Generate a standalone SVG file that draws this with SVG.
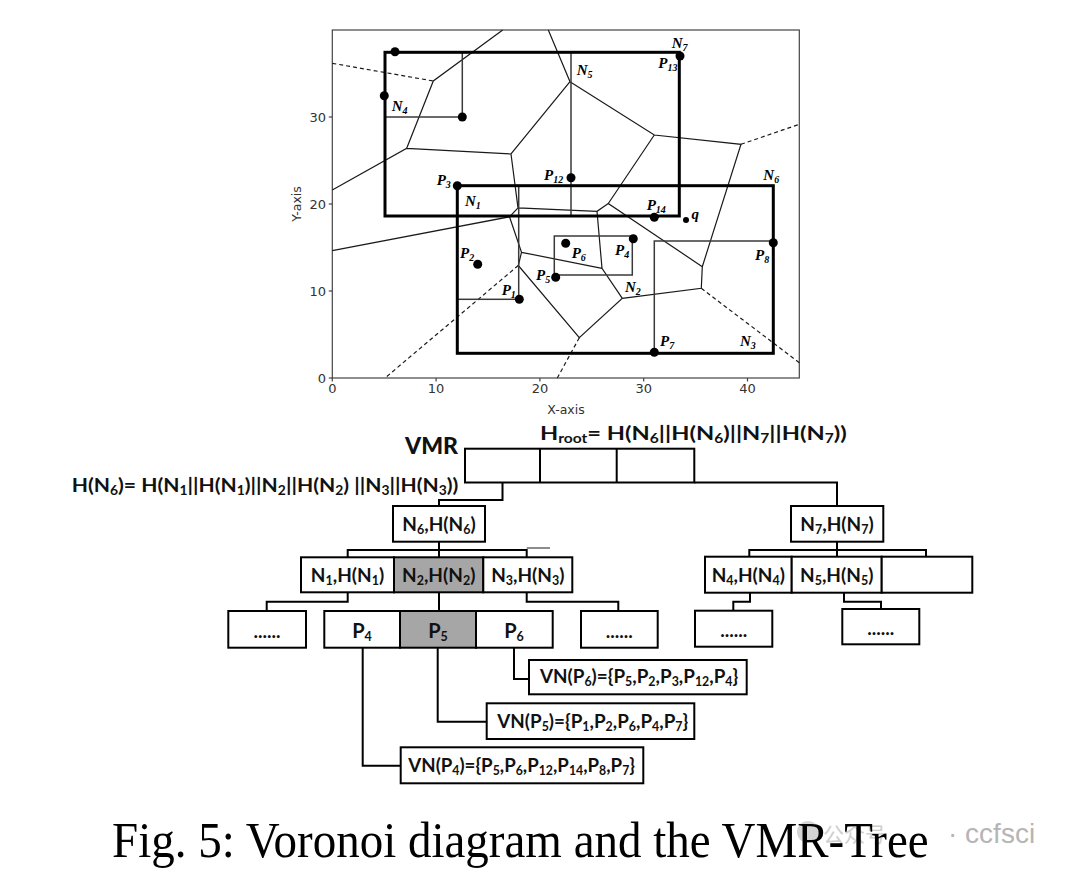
<svg xmlns="http://www.w3.org/2000/svg" width="1080" height="879" viewBox="0 0 1080 879">
<style>
.edge{fill:none;stroke:#1a1a1a;stroke-width:1.2}
.dash{fill:none;stroke:#1a1a1a;stroke-width:1.2;stroke-dasharray:4 3}
.thin{fill:none;stroke:#3a3a3a;stroke-width:1.5}
.thick{fill:none;stroke:#000;stroke-width:3}
.pt{fill:#000}
.lab{font-family:"Liberation Serif",serif;font-weight:bold;font-style:italic;font-size:15px;fill:#000}
.sub{font-size:10px}
.tick{font-family:"DejaVu Sans",sans-serif;font-size:13px;fill:#333}
.box{fill:#fff;stroke:#000;stroke-width:2}
.gray{fill:#a6a6a6;stroke:#000;stroke-width:2}
.t{font-family:Lato,"Liberation Sans",sans-serif;font-weight:bold;font-size:19px;fill:#111}
.s{font-size:12.5px}
.conn{fill:none;stroke:#000;stroke-width:2}
</style>
<rect width="1080" height="879" fill="#fff"/>
<g id="plot">
<rect x="332.3" y="30" width="467" height="348" fill="none" stroke="#444" stroke-width="1.2"/>
<g stroke="#444" stroke-width="1.2">
<line x1="332.3" y1="378" x2="332.3" y2="381.5"/><line x1="436.1" y1="378" x2="436.1" y2="381.5"/><line x1="539.9" y1="378" x2="539.9" y2="381.5"/><line x1="643.7" y1="378" x2="643.7" y2="381.5"/><line x1="747.5" y1="378" x2="747.5" y2="381.5"/>
<line x1="328.8" y1="378" x2="332.3" y2="378"/><line x1="328.8" y1="291" x2="332.3" y2="291"/><line x1="328.8" y1="204" x2="332.3" y2="204"/><line x1="328.8" y1="117" x2="332.3" y2="117"/>
</g>
<g class="tick" text-anchor="middle">
<text x="332.3" y="393">0</text><text x="436.1" y="393">10</text><text x="539.9" y="393">20</text><text x="643.7" y="393">30</text><text x="747.5" y="393">40</text>
<text x="566" y="414" style="font-size:12.5px">X-axis</text>
<text transform="translate(301,204) rotate(-90)" style="font-size:12.5px">Y-axis</text>
</g>
<g class="tick" text-anchor="end">
<text x="326" y="382.7">0</text><text x="326" y="295.7">10</text><text x="326" y="208.7">20</text><text x="326" y="121.7">30</text>
</g>
<path class="edge" d="M502.7,30 L433.3,81 L406.7,148.3 L332.3,190 M406.7,148.3 L511,154 L570,81.7 L548.3,30 M570,81.7 L654.3,135 L741,144.3 L702.3,266.7 L701.3,288.3 L622.3,298.3 L579.3,337.7 L518.3,265.5 L521.5,252.3 L509.5,216.8 L332.3,250.7 M654.3,135 L608.3,203.5 L702.3,266.7 M608.3,203.5 L597,211.3 L518,207.8 L511,154 M518,207.8 L509.5,216.8 M597,211.3 L602,268.3 L622.3,298.3 M602,268.3 L521.5,252.3"/>
<path class="dash" d="M332.3,63.3 L433.3,81 M741,144.3 L799.3,124.3 M701.3,288.3 L799.3,362.7 M518.3,265.5 L385,378 M579.3,337.7 L557.3,378"/>
<rect class="thin" x="385" y="52.3" width="77.3" height="64.7"/>
<rect class="thin" x="571" y="52.3" width="108.3" height="163.7"/>
<rect class="thin" x="457.3" y="185.7" width="61.4" height="113.6"/>
<rect class="thin" x="554.3" y="236" width="78" height="39"/>
<rect class="thin" x="654.3" y="241" width="119" height="112.3"/>
<rect class="thick" x="385" y="52.3" width="294.3" height="163.7"/>
<rect class="thick" x="457.3" y="185.7" width="316" height="167.6"/>
<g class="pt">
<circle cx="395" cy="51.7" r="4.5"/><circle cx="384.3" cy="95.7" r="4.5"/><circle cx="462.3" cy="117" r="4.5"/><circle cx="680" cy="56" r="4.5"/><circle cx="571" cy="177.7" r="4.5"/><circle cx="654.3" cy="217.3" r="4.5"/><circle cx="457.3" cy="185.7" r="4.5"/><circle cx="477.7" cy="264.3" r="4.5"/><circle cx="519.3" cy="299.3" r="4.5"/><circle cx="555.7" cy="277.3" r="4.5"/><circle cx="565.7" cy="243.3" r="4.5"/><circle cx="633.3" cy="238.7" r="4.5"/><circle cx="773.3" cy="242.7" r="4.5"/><circle cx="654.3" cy="352.3" r="4.5"/><circle cx="686" cy="220" r="3"/>
</g>
<g class="lab">
<text x="671.7" y="47.7">N<tspan class="sub" dy="3">7</tspan></text>
<text x="658.3" y="68.3">P<tspan class="sub" dy="3">13</tspan></text>
<text x="576.7" y="75">N<tspan class="sub" dy="3">5</tspan></text>
<text x="544" y="180">P<tspan class="sub" dy="3">12</tspan></text>
<text x="763.3" y="180">N<tspan class="sub" dy="3">6</tspan></text>
<text x="646.7" y="210">P<tspan class="sub" dy="3">14</tspan></text>
<text x="691.5" y="219">q</text>
<text x="391.7" y="110.7">N<tspan class="sub" dy="3">4</tspan></text>
<text x="436.7" y="185">P<tspan class="sub" dy="3">3</tspan></text>
<text x="465" y="206">N<tspan class="sub" dy="3">1</tspan></text>
<text x="460" y="258.3">P<tspan class="sub" dy="3">2</tspan></text>
<text x="501.7" y="295">P<tspan class="sub" dy="3">1</tspan></text>
<text x="536" y="280">P<tspan class="sub" dy="3">5</tspan></text>
<text x="571.7" y="258.3">P<tspan class="sub" dy="3">6</tspan></text>
<text x="615" y="255">P<tspan class="sub" dy="3">4</tspan></text>
<text x="625" y="291.7">N<tspan class="sub" dy="3">2</tspan></text>
<text x="755" y="260">P<tspan class="sub" dy="3">8</tspan></text>
<text x="660" y="345.7">P<tspan class="sub" dy="3">7</tspan></text>
<text x="740" y="345.7">N<tspan class="sub" dy="3">3</tspan></text>
</g>
</g>
<g id="connectors">
<path class="conn" d="M502.5,482.5 V500 H439 V506 M694.3,482.5 H837 V506 M439,541.7 V557.3 M347.7,557.3 V550 H526.7 V557.3 M837,541.7 V556.7 M749.3,556.7 V550 H926 V556.7 M347.7,592.3 V601.7 H266.7 V611 M439,592.3 V611 M526.7,592.3 V601.7 H618.3 V611 M750,592.7 V601.7 H733.3 V610.7 M844,592.7 V601.7 H881 V609 M514,647.7 V679 H529 M437.7,647.7 V721.7 H486.7 M362.7,647.7 V765.7 H400.7"/>
<path d="M526.7,548 H550" fill="none" stroke="#666" stroke-width="1.5"/>
</g>
<g id="vmr-label"><text class="t" x="405" y="454.3" style="font-size:23px;font-weight:900">VMR</text></g>
<g id="hroot-label"><text class="t" x="540" y="440" textLength="306.7" lengthAdjust="spacingAndGlyphs">H<tspan class="s" dy="3">root</tspan><tspan dy="-3">= H(N</tspan><tspan class="s" dy="3">6</tspan><tspan dy="-3">||H(N</tspan><tspan class="s" dy="3">6</tspan><tspan dy="-3">)||N</tspan><tspan class="s" dy="3">7</tspan><tspan dy="-3">||H(N</tspan><tspan class="s" dy="3">7</tspan><tspan dy="-3">))</tspan></text></g>
<g id="hn6-label"><text class="t" x="71.7" y="492" textLength="386.7" lengthAdjust="spacingAndGlyphs">H(N<tspan class="s" dy="3">6</tspan><tspan dy="-3">)= H(N</tspan><tspan class="s" dy="3">1</tspan><tspan dy="-3">||H(N</tspan><tspan class="s" dy="3">1</tspan><tspan dy="-3">)||N</tspan><tspan class="s" dy="3">2</tspan><tspan dy="-3">||H(N</tspan><tspan class="s" dy="3">2</tspan><tspan dy="-3">) ||N</tspan><tspan class="s" dy="3">3</tspan><tspan dy="-3">||H(N</tspan><tspan class="s" dy="3">3</tspan><tspan dy="-3">))</tspan></text></g>
<g id="root">
<rect class="box" x="465" y="448.7" width="229.3" height="33.8"/>
<line x1="540" y1="448.7" x2="540" y2="482.5" stroke="#000" stroke-width="2"/>
<line x1="616.7" y1="448.7" x2="616.7" y2="482.5" stroke="#000" stroke-width="2"/>
</g>
<g id="n6">
<rect class="box" x="393" y="506" width="92" height="35.7"/>
<text class="t" x="439" y="531" text-anchor="middle">N<tspan class="s" dy="3">6</tspan><tspan dy="-3">,H(N</tspan><tspan class="s" dy="3">6</tspan><tspan dy="-3">)</tspan></text>
</g>
<g id="n7">
<rect class="box" x="791" y="506" width="92.3" height="35.7"/>
<text class="t" x="837" y="531" text-anchor="middle">N<tspan class="s" dy="3">7</tspan><tspan dy="-3">,H(N</tspan><tspan class="s" dy="3">7</tspan><tspan dy="-3">)</tspan></text>
</g>
<g id="n1">
<rect class="box" x="301" y="557.3" width="93" height="35"/>
<text class="t" x="347.5" y="582" text-anchor="middle">N<tspan class="s" dy="3">1</tspan><tspan dy="-3">,H(N</tspan><tspan class="s" dy="3">1</tspan><tspan dy="-3">)</tspan></text>
</g>
<g id="n2">
<rect class="gray" x="394" y="557.3" width="89.3" height="35"/>
<text class="t" x="438.7" y="582" text-anchor="middle">N<tspan class="s" dy="3">2</tspan><tspan dy="-3">,H(N</tspan><tspan class="s" dy="3">2</tspan><tspan dy="-3">)</tspan></text>
</g>
<g id="n3">
<rect class="box" x="483.3" y="557.3" width="89" height="35"/>
<text class="t" x="527.8" y="582" text-anchor="middle">N<tspan class="s" dy="3">3</tspan><tspan dy="-3">,H(N</tspan><tspan class="s" dy="3">3</tspan><tspan dy="-3">)</tspan></text>
</g>
<g id="n4">
<rect class="box" x="705" y="556.7" width="86.7" height="36"/>
<text class="t" x="748.3" y="581.5" text-anchor="middle">N<tspan class="s" dy="3">4</tspan><tspan dy="-3">,H(N</tspan><tspan class="s" dy="3">4</tspan><tspan dy="-3">)</tspan></text>
</g>
<g id="n5">
<rect class="box" x="791.7" y="556.7" width="90" height="36"/>
<text class="t" x="836.7" y="581.5" text-anchor="middle">N<tspan class="s" dy="3">5</tspan><tspan dy="-3">,H(N</tspan><tspan class="s" dy="3">5</tspan><tspan dy="-3">)</tspan></text>
</g>
<g id="n7-empty"><rect class="box" x="881.7" y="556.7" width="90.6" height="36"/></g>
<g id="dots1"><rect class="box" x="228.3" y="611" width="77.7" height="36.7"/><text class="t" x="267" y="637.5" text-anchor="middle">......</text></g>
<g id="p4"><rect class="box" x="324.3" y="611" width="75.7" height="36.7"/><text class="t" x="362" y="638" text-anchor="middle" style="font-size:20px">P<tspan class="s" dy="3">4</tspan></text></g>
<g id="p5"><rect class="gray" x="400" y="611" width="76" height="36.7"/><text class="t" x="438" y="638" text-anchor="middle" style="font-size:20px">P<tspan class="s" dy="3">5</tspan></text></g>
<g id="p6"><rect class="box" x="476" y="611" width="76.7" height="36.7"/><text class="t" x="514" y="638" text-anchor="middle" style="font-size:20px">P<tspan class="s" dy="3">6</tspan></text></g>
<g id="dots2"><rect class="box" x="581" y="611" width="76.7" height="36.7"/><text class="t" x="619.3" y="637.5" text-anchor="middle">......</text></g>
<g id="dots3"><rect class="box" x="695" y="610.7" width="77.3" height="36"/><text class="t" x="733.7" y="636.5" text-anchor="middle">......</text></g>
<g id="dots4"><rect class="box" x="842.3" y="609" width="77" height="35.3"/><text class="t" x="880.8" y="635" text-anchor="middle">......</text></g>
<g id="vn-p6"><rect class="box" x="529" y="660" width="217.7" height="34.3"/>
<text class="t" x="540" y="683" textLength="198.3" lengthAdjust="spacingAndGlyphs">VN(P<tspan class="s" dy="3">6</tspan><tspan dy="-3">)={P</tspan><tspan class="s" dy="3">5</tspan><tspan dy="-3">,P</tspan><tspan class="s" dy="3">2</tspan><tspan dy="-3">,P</tspan><tspan class="s" dy="3">3</tspan><tspan dy="-3">,P</tspan><tspan class="s" dy="3">12</tspan><tspan dy="-3">,P</tspan><tspan class="s" dy="3">4</tspan><tspan dy="-3">}</tspan></text></g>
<g id="vn-p5"><rect class="box" x="486.7" y="703.3" width="207.6" height="35.7"/>
<text class="t" x="497.3" y="727.5" textLength="191" lengthAdjust="spacingAndGlyphs">VN(P<tspan class="s" dy="3">5</tspan><tspan dy="-3">)={P</tspan><tspan class="s" dy="3">1</tspan><tspan dy="-3">,P</tspan><tspan class="s" dy="3">2</tspan><tspan dy="-3">,P</tspan><tspan class="s" dy="3">6</tspan><tspan dy="-3">,P</tspan><tspan class="s" dy="3">4</tspan><tspan dy="-3">,P</tspan><tspan class="s" dy="3">7</tspan><tspan dy="-3">}</tspan></text></g>
<g id="vn-p4"><rect class="box" x="400.7" y="747.3" width="242.6" height="36"/>
<text class="t" x="408.3" y="771.5" textLength="226.7" lengthAdjust="spacingAndGlyphs">VN(P<tspan class="s" dy="3">4</tspan><tspan dy="-3">)={P</tspan><tspan class="s" dy="3">5</tspan><tspan dy="-3">,P</tspan><tspan class="s" dy="3">6</tspan><tspan dy="-3">,P</tspan><tspan class="s" dy="3">12</tspan><tspan dy="-3">,P</tspan><tspan class="s" dy="3">14</tspan><tspan dy="-3">,P</tspan><tspan class="s" dy="3">8</tspan><tspan dy="-3">,P</tspan><tspan class="s" dy="3">7</tspan><tspan dy="-3">}</tspan></text></g>
<g id="watermark">
<circle cx="808" cy="832" r="11" fill="#d4d4d4"/>
<text x="823" y="842" font-family="'Noto Sans CJK SC',sans-serif" font-size="21" fill="#cfcfcf">公众号</text>
<text x="948" y="843" font-family="'Liberation Sans',sans-serif" font-size="28" fill="#b5b5b5">· ccfsci</text>
</g>
<g id="caption"><text transform="translate(112,857) scale(1,1.08)" font-family="'Liberation Serif',serif" font-size="47" fill="#000">Fig. 5: Voronoi diagram and the VMR-Tree</text></g>
</svg>
